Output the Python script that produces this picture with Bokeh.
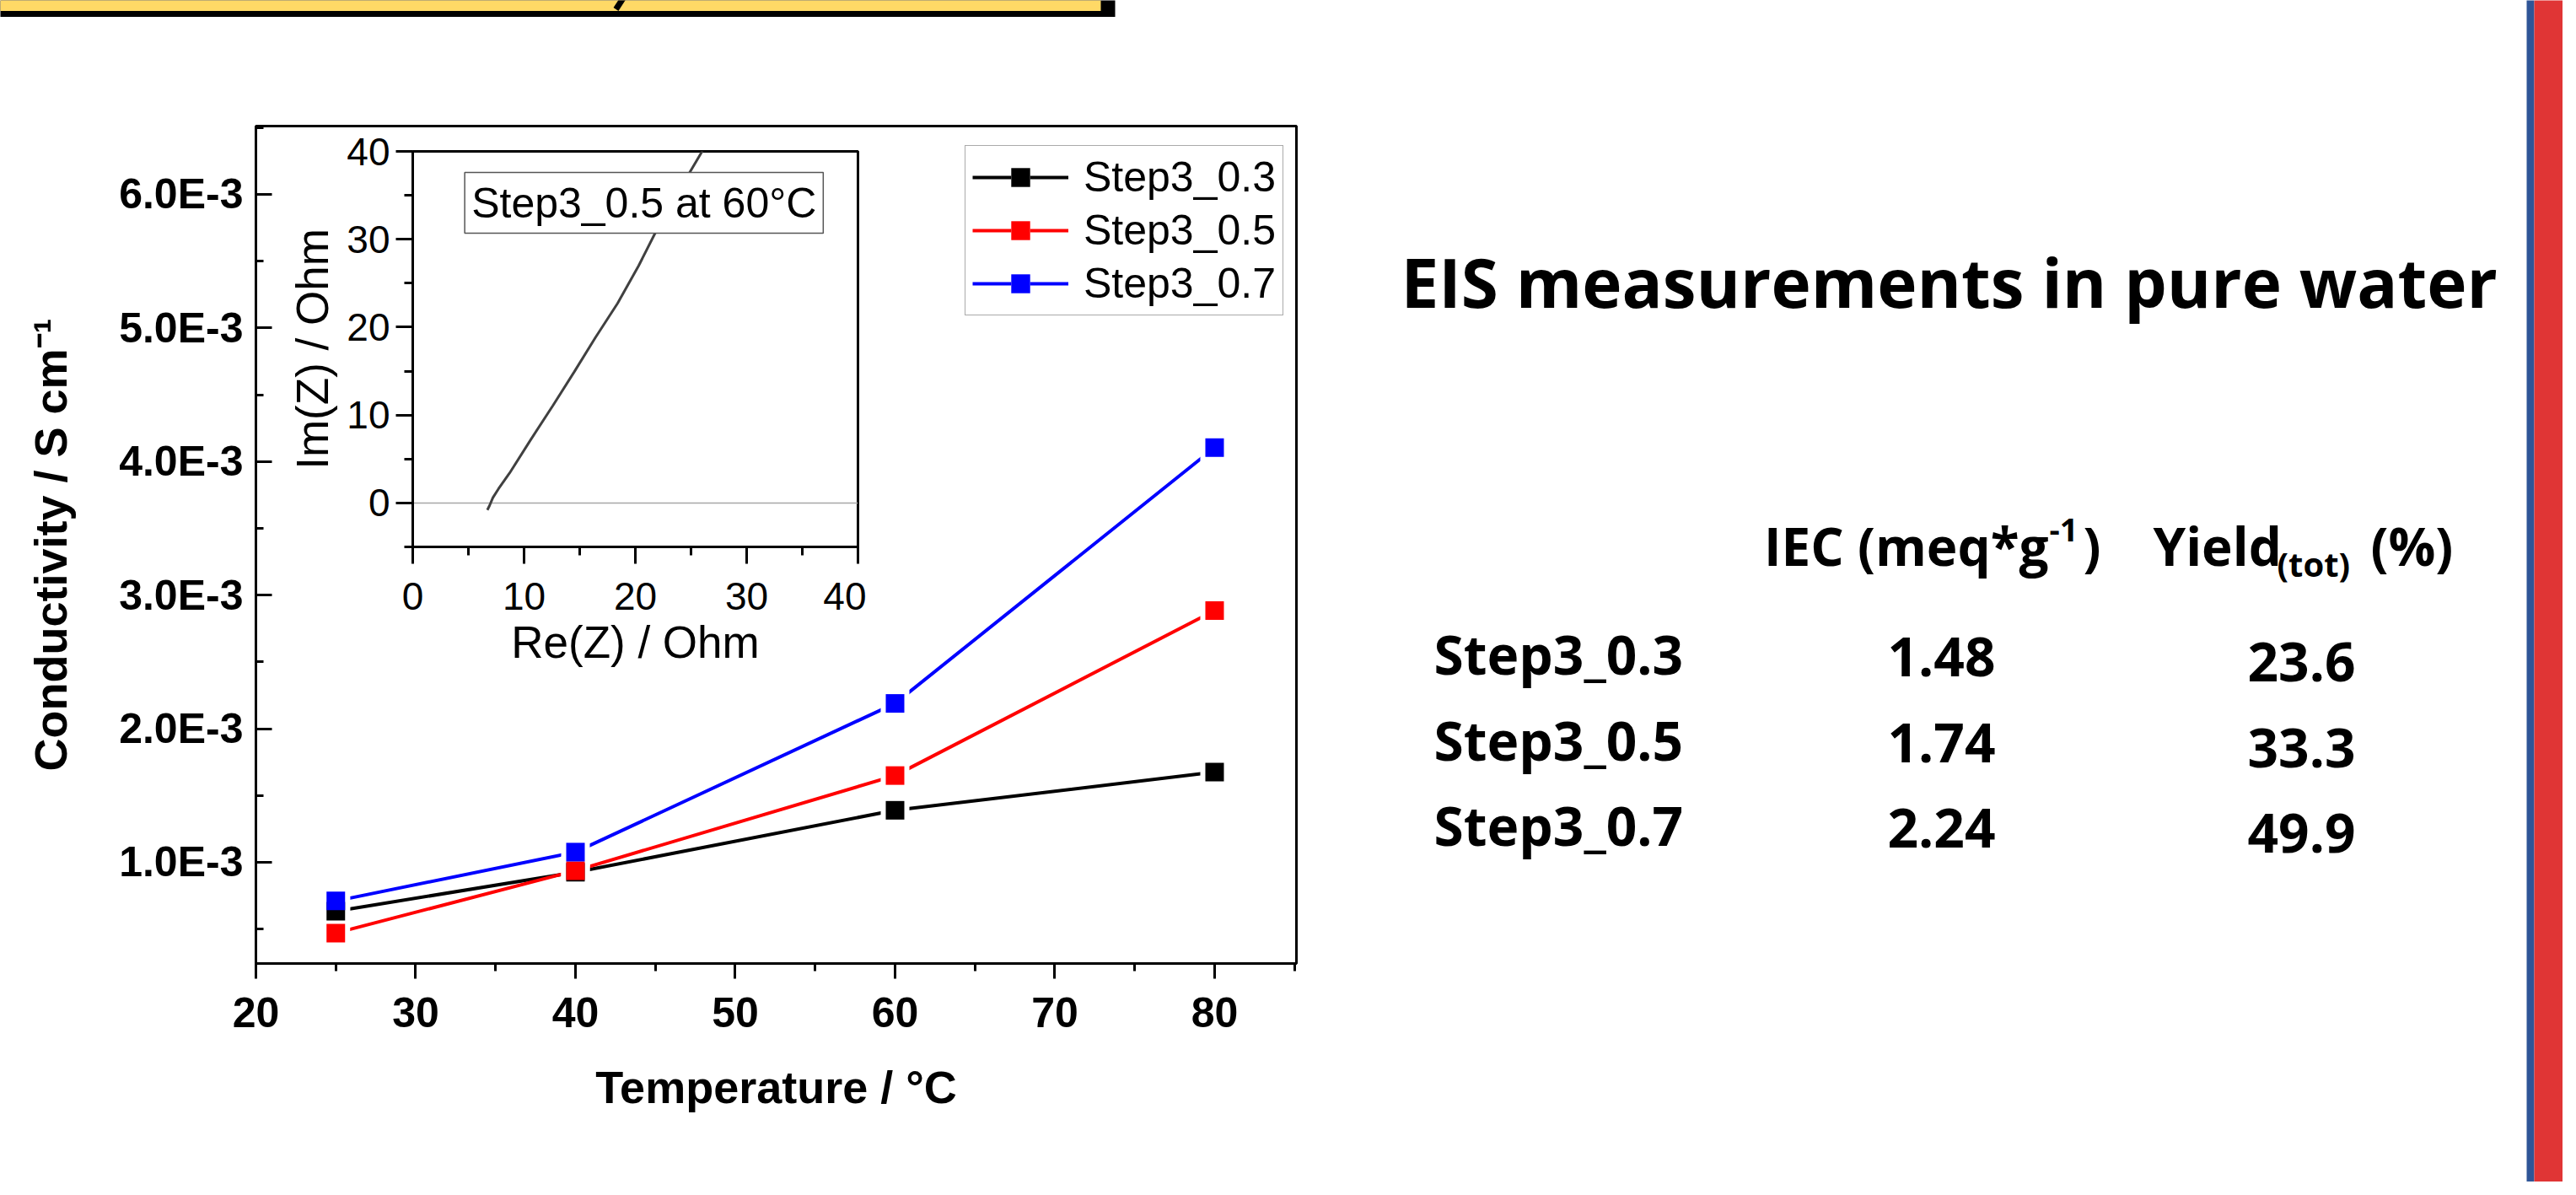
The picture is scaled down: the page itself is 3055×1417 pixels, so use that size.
from bokeh.plotting import figure
from bokeh.models import (Range1d, FixedTicker, CustomJSTickFormatter, Legend, LegendItem,
                          Label, Span, GridBox, ColumnDataSource)
from bokeh.core.properties import value
from bokeh.embed import file_html
from bokeh.resources import INLINE

# ---------------- data ----------------
temperature_c = [25, 40, 60, 80]
cond_step3_03 = [0.634e-3, 0.925e-3, 1.389e-3, 1.675e-3]
cond_step3_05 = [0.470e-3, 0.937e-3, 1.649e-3, 2.884e-3]
cond_step3_07 = [0.710e-3, 1.076e-3, 2.189e-3, 4.104e-3]
series_names = ["Step3_0.3", "Step3_0.5", "Step3_0.7"]
series_colors = ["#000000", "#ff0000", "#0000ff"]

x_ticks = [20, 30, 40, 50, 60, 70, 80]
x_minor_ticks = [25, 35, 45, 55, 65, 75, 85]
y_ticks = [1.0e-3, 2.0e-3, 3.0e-3, 4.0e-3, 5.0e-3, 6.0e-3]
y_tick_labels = ["1.0E-3", "2.0E-3", "3.0E-3", "4.0E-3", "5.0E-3", "6.0E-3"]
y_minor_ticks = [0.5e-3, 1.5e-3, 2.5e-3, 3.5e-3, 4.5e-3, 5.5e-3, 6.5e-3]

nyquist_re = [6.7, 6.9, 7.2, 7.7, 8.7, 10.6, 12.6, 14.5, 16.4, 18.4, 20.3, 21.9, 23.2, 24.6, 26.0, 26.6]
nyquist_im = [-0.8, -0.3, 0.6, 1.6, 3.4, 7.2, 11.1, 14.9, 18.8, 22.7, 27.0, 31.0, 34.0, 37.0, 40.0, 41.5]
inset_ticks = [0, 10, 20, 30, 40]
inset_x_minor = [5, 15, 25, 35]
inset_y_minor = [-5, 5, 15, 25, 35]
inset_note = "Step3_0.5 at 60°C"

table_title = "EIS measurements in pure water"
table_samples = ["Step3_0.3", "Step3_0.5", "Step3_0.7"]
table_iec = ["1.48", "1.74", "2.24"]
table_yield = ["23.6", "33.3", "49.9"]

# ---------------- styles ----------------
ARIAL = "Liberation Sans"
CALIBRI = "Open Sans"
PAGE_W, PAGE_H = 3039, 1401
BLACK = "#000000"

def style_axis(ax, bold, tick_size, label_size):
    ax.axis_label_text_font = ARIAL
    ax.axis_label_text_font_style = "bold" if bold else "normal"
    ax.axis_label_text_font_size = label_size
    ax.axis_label_text_color = BLACK
    ax.major_label_text_font = ARIAL
    ax.major_label_text_font_style = "bold" if bold else "normal"
    ax.major_label_text_font_size = tick_size
    ax.major_label_text_color = BLACK
    ax.axis_line_color = BLACK
    ax.major_tick_line_color = BLACK
    ax.minor_tick_line_color = BLACK
    ax.axis_line_width = 3
    ax.major_tick_line_width = 3
    ax.minor_tick_line_width = 3

# ================= main conductivity chart =================
p = figure(frame_width=1234, frame_height=993,
           min_border_left=303, min_border_top=149, min_border_right=10, min_border_bottom=200,
           x_range=Range1d(20, 85.12), y_range=Range1d(0.242e-3, 6.511e-3),
           output_backend="svg", toolbar_location=None)
p.frame_align = False
p.background_fill_alpha = 0
p.border_fill_alpha = 0
p.grid.visible = False
p.outline_line_color = BLACK
p.outline_line_width = 3
p.outline_line_alpha = 1

xa = p.xaxis[0]
style_axis(xa, True, "50px", "54px")
xa.ticker = FixedTicker(ticks=x_ticks, minor_ticks=x_minor_ticks)
xa.axis_label = "Temperature / °C"
xa.axis_label_standoff = 38
xa.major_label_standoff = 22
xa.major_tick_out = 18
xa.major_tick_in = 0
xa.minor_tick_out = 9
xa.minor_tick_in = 0

ya = p.yaxis[0]
style_axis(ya, True, "50px", "54px")
ya.ticker = FixedTicker(ticks=y_ticks, minor_ticks=y_minor_ticks)
ya.formatter = CustomJSTickFormatter(args=dict(tvals=y_ticks, tlabels=y_tick_labels), code="""
    let best = 0, d = Infinity;
    for (let i = 0; i < tvals.length; i++) {
        const dd = Math.abs(tvals[i] - tick);
        if (dd < d) { d = dd; best = i; }
    }
    return tlabels[best];
""")
ya.axis_label = "Conductivity / S cm\u207b\u00b9"
ya.axis_label_standoff = 48
ya.major_label_standoff = 15
ya.major_tick_in = 19
ya.major_tick_out = 0
ya.minor_tick_in = 9
ya.minor_tick_out = 0

series = [cond_step3_03, cond_step3_05, cond_step3_07]
sources = [ColumnDataSource(dict(t=temperature_c, c=s)) for s in series]
line_r = [p.line("t", "c", source=src, line_color=col, line_width=4)
          for src, col in zip(sources, series_colors)]
gap_r = [p.scatter("t", "c", source=src, marker="square", size=34,
                   fill_color="white", line_color=None)
         for src in sources]
mark_r = [p.scatter("t", "c", source=src, marker="square", size=22,
                    fill_color=col, line_color=None)
          for src, col in zip(sources, series_colors)]

legend = Legend(items=[LegendItem(label=n, renderers=[l, g, m])
                       for n, l, g, m in zip(series_names, line_r, gap_r, mark_r)],
                location=(841, 768),
                label_text_font=ARIAL, label_text_font_size="50px", label_text_color=BLACK,
                glyph_width=114, glyph_height=56, label_standoff=18,
                spacing=5, padding=8, margin=0,
                border_line_color="#555555", border_line_width=1.5,
                background_fill_color="white", background_fill_alpha=1)
p.add_layout(legend)

# ================= inset Nyquist plot =================
ins = figure(frame_width=528, frame_height=469,
             min_border_left=170, min_border_top=40, min_border_right=10, min_border_bottom=160,
             x_range=Range1d(0, 40), y_range=Range1d(-5, 40),
             output_backend="svg", toolbar_location=None)
ins.frame_align = False
ins.border_fill_alpha = 0
ins.background_fill_color = "white"
ins.grid.visible = False
ins.outline_line_color = BLACK
ins.outline_line_width = 3
ins.outline_line_alpha = 1

for ax, minor in ((ins.xaxis[0], inset_x_minor), (ins.yaxis[0], inset_y_minor)):
    style_axis(ax, False, "46px", "53px")
    ax.ticker = FixedTicker(ticks=inset_ticks, minor_ticks=minor)
    ax.major_tick_out = 20
    ax.major_tick_in = 0
    ax.minor_tick_out = 10
    ax.minor_tick_in = 0
ins.xaxis[0].axis_label = "Re(Z) / Ohm"
ins.xaxis[0].major_label_standoff = 22
ins.xaxis[0].axis_label_standoff = 6
ins.yaxis[0].axis_label = "Im(Z) / Ohm"
ins.yaxis[0].major_label_standoff = 7
ins.yaxis[0].axis_label_standoff = 8

ins.add_layout(Span(location=0, dimension="width", line_color="#a6a6a6",
                    line_width=1.5, level="underlay"))
ins.line(nyquist_re, nyquist_im, line_color="#404040", line_width=3)
ins.add_layout(Label(x=4.67, y=37.6, text=inset_note, text_align="left", text_baseline="top",
                     text_font=ARIAL, text_font_size="50px", text_color=BLACK,
                     border_line_color="#555555", border_line_width=1.5,
                     background_fill_color="white", padding=8))

# ================= slide background, banner, table =================
bg = figure(width=PAGE_W, height=PAGE_H, x_range=Range1d(0, PAGE_W), y_range=Range1d(PAGE_H, 0),
            min_border=0, x_axis_type=None, y_axis_type=None,
            output_backend="svg", toolbar_location=None)
bg.frame_align = False
bg.min_border_left = 0
bg.min_border_right = 0
bg.min_border_top = 0
bg.min_border_bottom = 0
bg.outline_line_color = None
bg.background_fill_color = "white"
bg.border_fill_color = "white"

# yellow banner (cut at top of slide) and right-hand stripes
bg.quad(left=[-10], right=[1322], top=[-10], bottom=[19.5], fill_color=BLACK, line_color=None)
bg.quad(left=[-10], right=[1305], top=[-10], bottom=[12.5], fill_color="#FFD966", line_color=None)
bg.segment(x0=[742], y0=[-8], x1=[730], y1=[10.5], line_color=BLACK, line_width=7)
bg.quad(left=[2996], right=[3005], top=[-5], bottom=[PAGE_H + 5], fill_color="#2F5597", line_color=None)
bg.quad(left=[3005], right=[PAGE_W + 10], top=[-5], bottom=[PAGE_H + 5], fill_color="#E03535", line_color=None)

DY = -12  # vertical correction for text placement

def txt(x, y, s, size, align="left"):
    bg.text(x=x, y=[v + DY for v in y], text=s, text_font=value(CALIBRI), text_font_style="bold",
            text_font_size=size, text_align=align, text_baseline="alphabetic", text_color=BLACK)

txt([1661], [345], [table_title], "80px")
# header
txt([2429], [658], ["IEC (meq*g"], "62px", "right")
txt([2430], [640], ["-1"], "38px")
txt([2470], [658], [")"], "62px")
txt([2553], [658], ["Yield"], "62px")
txt([2700], [680], ["(tot)"], "40px")
txt([2811], [658], ["(%)"], "62px")
# rows
row_base = [787, 889, 990]
txt([1700] * 3, row_base, table_samples, "64px")
txt([2302] * 3, [b + 3 for b in row_base], table_iec, "64px", "center")
txt([2729] * 3, [b + 9 for b in row_base], table_yield, "64px", "center")

root = GridBox(children=[(bg, 0, 0, 4, 4), (p, 0, 0, 3, 3), (ins, 1, 1)],
               rows=["139px", "669px", "534px", "59px"],
               cols=["319px", "708px", "520px", "1492px"], spacing=0)

open("out.html", "w").write(file_html(root, INLINE))
